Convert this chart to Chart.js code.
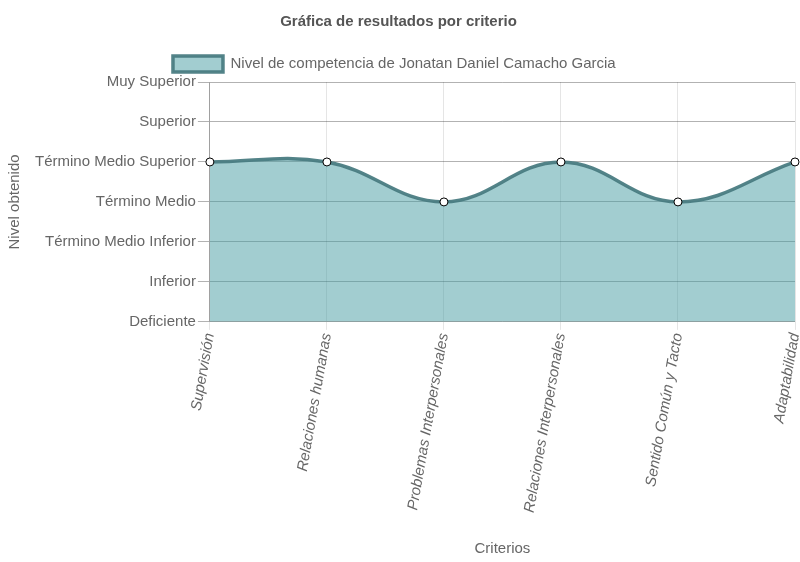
<!DOCTYPE html>
<html>
<head>
<meta charset="utf-8">
<script src="https://cdn.jsdelivr.net/npm/chart.js@4/dist/chart.umd.min.js"></script>
<style>
html,body{margin:0;padding:0;background:#fff;}
#wrap{width:800px;height:562px;}
</style>
</head>
<body>
<div id="wrap"><canvas id="c" width="800" height="562"></canvas></div>
<script>
const categories = ["Supervisión","Relaciones humanas","Problemas Interpersonales","Relaciones Interpersonales","Sentido Común y Tacto","Adaptabilidad"];
const levelLabels = ["Deficiente","Inferior","Término Medio Inferior","Término Medio","Término Medio Superior","Superior","Muy Superior"];
const seriesName = "Nivel de competencia de Jonatan Daniel Camacho Garcia";
const values = [4,4,3,4,3,4];

Chart.defaults.font.family = "'Liberation Sans', Arial, Helvetica, sans-serif";
Chart.defaults.color = "#666";

new Chart(document.getElementById('c'), {
  type: 'line',
  data: {
    labels: categories,
    datasets: [{
      label: seriesName,
      data: values,
      fill: 'origin',
      tension: 0.4,
      borderColor: 'rgba(74,124,130,0.95)',
      backgroundColor: 'rgba(69,155,161,0.5)',
      borderWidth: 3.5,
      pointRadius: 4,
      pointBackgroundColor: '#fff',
      pointBorderColor: '#000',
      pointBorderWidth: 1
    }]
  },
  options: {
    responsive: false,
    animation: false,
    layout: {padding: {left: 2, right: 5, top: 0, bottom: 0}},
    plugins: {
      title: {
        display: true,
        text: 'Gráfica de resultados por criterio',
        font: {size: 15, weight: 'bold'},
        color: '#555',
        padding: {top: 13, bottom: 12}
      },
      legend: {
        labels: {
          boxWidth: 50,
          boxHeight: 16,
          font: {size: 15},
          color: '#666',
          padding: 13,
          generateLabels: (chart) => {
            const items = Chart.defaults.plugins.legend.labels.generateLabels(chart);
            items.forEach(it => { it.text = it.text + '  '; });
            return items;
          }
        }
      },
      tooltip: {enabled: false}
    },
    scales: {
      x: {
        offset: false,
        afterFit: (scale) => { scale.paddingRight = 0; },
        grid: {color: 'rgba(0,0,0,0.1)', drawTicks: true, tickLength: 8},
        ticks: {
          minRotation: 80, maxRotation: 80,
          font: {size: 15, style: 'italic'},
          color: '#666', padding: 2
        },
        title: {display: true, text: 'Criterios', font: {size: 15}, color: '#666', padding: {top: 24, bottom: 4}}
      },
      y: {
        min: 0, max: 6,
        grid: {color: 'rgba(0,0,0,0.3)', tickLength: 12},
        border: {color: 'rgba(0,0,0,0.3)'},
        ticks: {
          stepSize: 1,
          font: {size: 15},
          color: '#666',
          padding: 2,
          callback: (v) => levelLabels[v]
        },
        title: {display: true, text: 'Nivel obtenido', font: {size: 15}, color: '#666', padding: {top: 4, bottom: 9}}
      }
    }
  }
});
</script>
</body>
</html>
